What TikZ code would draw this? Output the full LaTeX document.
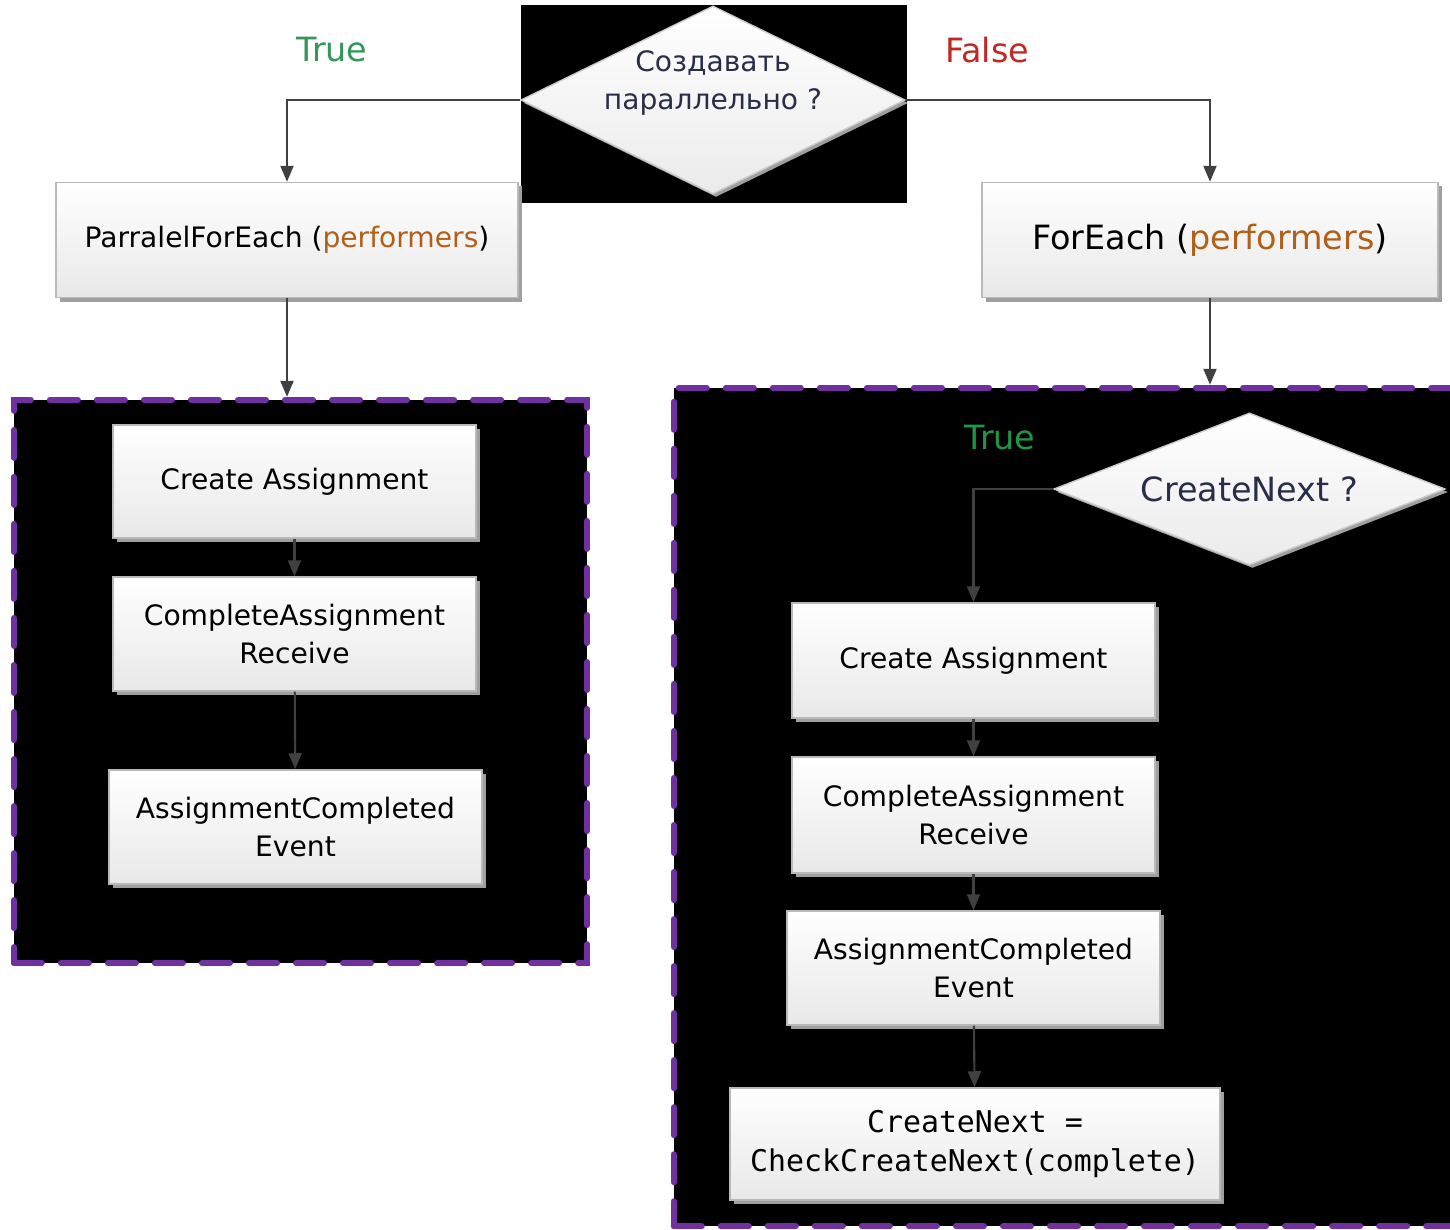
\documentclass[tikz,border=0pt]{standalone}
\usepackage{fontspec}
\setmainfont{DejaVu Sans}
\setmonofont{DejaVu Sans Mono}
\usepackage{xcolor}
\usetikzlibrary{shapes.geometric,arrows.meta,shadows}
\definecolor{argcol}{RGB}{176,96,24}
\definecolor{truecol}{RGB}{52,150,88}
\definecolor{truecolb}{RGB}{30,150,70}
\definecolor{falsecol}{RGB}{192,40,40}
\definecolor{asktext}{RGB}{40,46,72}
\definecolor{loopcol}{RGB}{112,48,160}
\definecolor{linecol}{RGB}{64,64,64}

\begin{document}
\begin{tikzpicture}[x=0.01cm, y=-0.01cm,
% common options for blocks:
block/.style = {draw=gray!55, top color=white, bottom color=black!9, align=center,
            font=\fontsize{8}{11}\selectfont, inner sep=0,
            copy shadow={shadow xshift=0.04cm, shadow yshift=-0.04cm, draw=none, fill=gray!75}},
% common options for the diamonds:
decision/.style = {diamond, draw=gray!40, top color=white, bottom color=black!8, align=center,
            text=asktext, inner sep=0,
            copy shadow={shadow xshift=0.03cm, shadow yshift=-0.03cm, draw=none, fill=gray!75}},
% dashed loop areas:
loopbox/.style = {draw=loopcol, fill=black, line width=1.7pt, line cap=round,
            dash pattern=on 0.28cm off 0.19cm, inner sep=0},
answer/.style = {font=\fontsize{9.5}{12}\selectfont},
conn/.style = {->, draw=linecol, line width=0.6pt},
>={Triangle[length=0.16cm,width=0.13cm]}]
\clip (0,0) rectangle (1450,1230);
\fill[white] (0,0) rectangle (1450,1230);
\fill[black] (521,5) rectangle (907,203);
\node[decision, aspect=2.04, minimum width=3.84cm, minimum height=1.88cm,
      font=\fontsize{8}{10.8}\selectfont] (D0) at (713,100)
      {\raisebox{0.17cm}[\height][\depth]{\begin{tabular}{@{}c@{}}Создавать\\параллельно ?\end{tabular}}};
\node[answer, text=truecol] (T0) at (332,50) {True};
\node[answer, text=falsecol] (T1) at (987,50) {False};
\node[block, minimum width=4.62cm, minimum height=1.15cm] (P0) at (287,240)
      {ParralelForEach (\textcolor{argcol}{performers})};
\node[block, minimum width=4.56cm, minimum height=1.15cm,
      font=\fontsize{9.5}{12}\selectfont] (F0) at (1210,240)
      {ForEach (\textcolor{argcol}{performers})};
% parallel branch
\node[loopbox, minimum width=5.73cm, minimum height=5.63cm] (G1) at (300.5,681.5) {};
\node[block, minimum width=3.63cm, minimum height=1.13cm] (P1) at (294.5,481.5) {Create Assignment};
\node[block, minimum width=3.63cm, minimum height=1.14cm] (P2) at (294.5,634) {CompleteAssignment\\Receive};
\node[block, minimum width=3.73cm, minimum height=1.14cm] (P3) at (295.5,827) {AssignmentCompleted\\Event};
% sequential branch
\node[loopbox, minimum width=7.96cm, minimum height=8.38cm] (G2) at (1072,807) {};
\node[decision, aspect=2.57, minimum width=3.91cm, minimum height=1.52cm,
      font=\fontsize{9.5}{12}\selectfont] (D1) at (1249.5,489) {CreateNext ?};
\node[answer, text=truecolb] (T2) at (1000,438) {True};
\node[block, minimum width=3.63cm, minimum height=1.15cm] (F1) at (973.5,660.5) {Create Assignment};
\node[block, minimum width=3.63cm, minimum height=1.16cm] (F2) at (973.5,815) {CompleteAssignment\\Receive};
\node[block, minimum width=3.73cm, minimum height=1.14cm] (F3) at (973.5,968) {AssignmentCompleted\\Event};
\node[block, minimum width=4.90cm, minimum height=1.12cm,
      font=\ttfamily\fontsize{8.5}{11}\selectfont] (F4) at (975,1144)
      {CreateNext =\\CheckCreateNext(complete)};
\draw[conn] (D0.west) -| (P0.north);
\draw[conn] (D0.east) -| (F0.north);
\draw[conn] (P0.south) -- (P0.south |- G1.north);
\draw[conn] (F0.south) -- (F0.south |- G2.north);
\draw[conn] (P1) -- (P2);
\draw[conn] (P2) -- (P3);
\draw[conn] (D1.west) -| (F1.north);
\draw[conn] (F1) -- (F2);
\draw[conn] (F2) -- (F3);
\draw[conn] (F3) -- (F4);
\end{tikzpicture}
\end{document}
